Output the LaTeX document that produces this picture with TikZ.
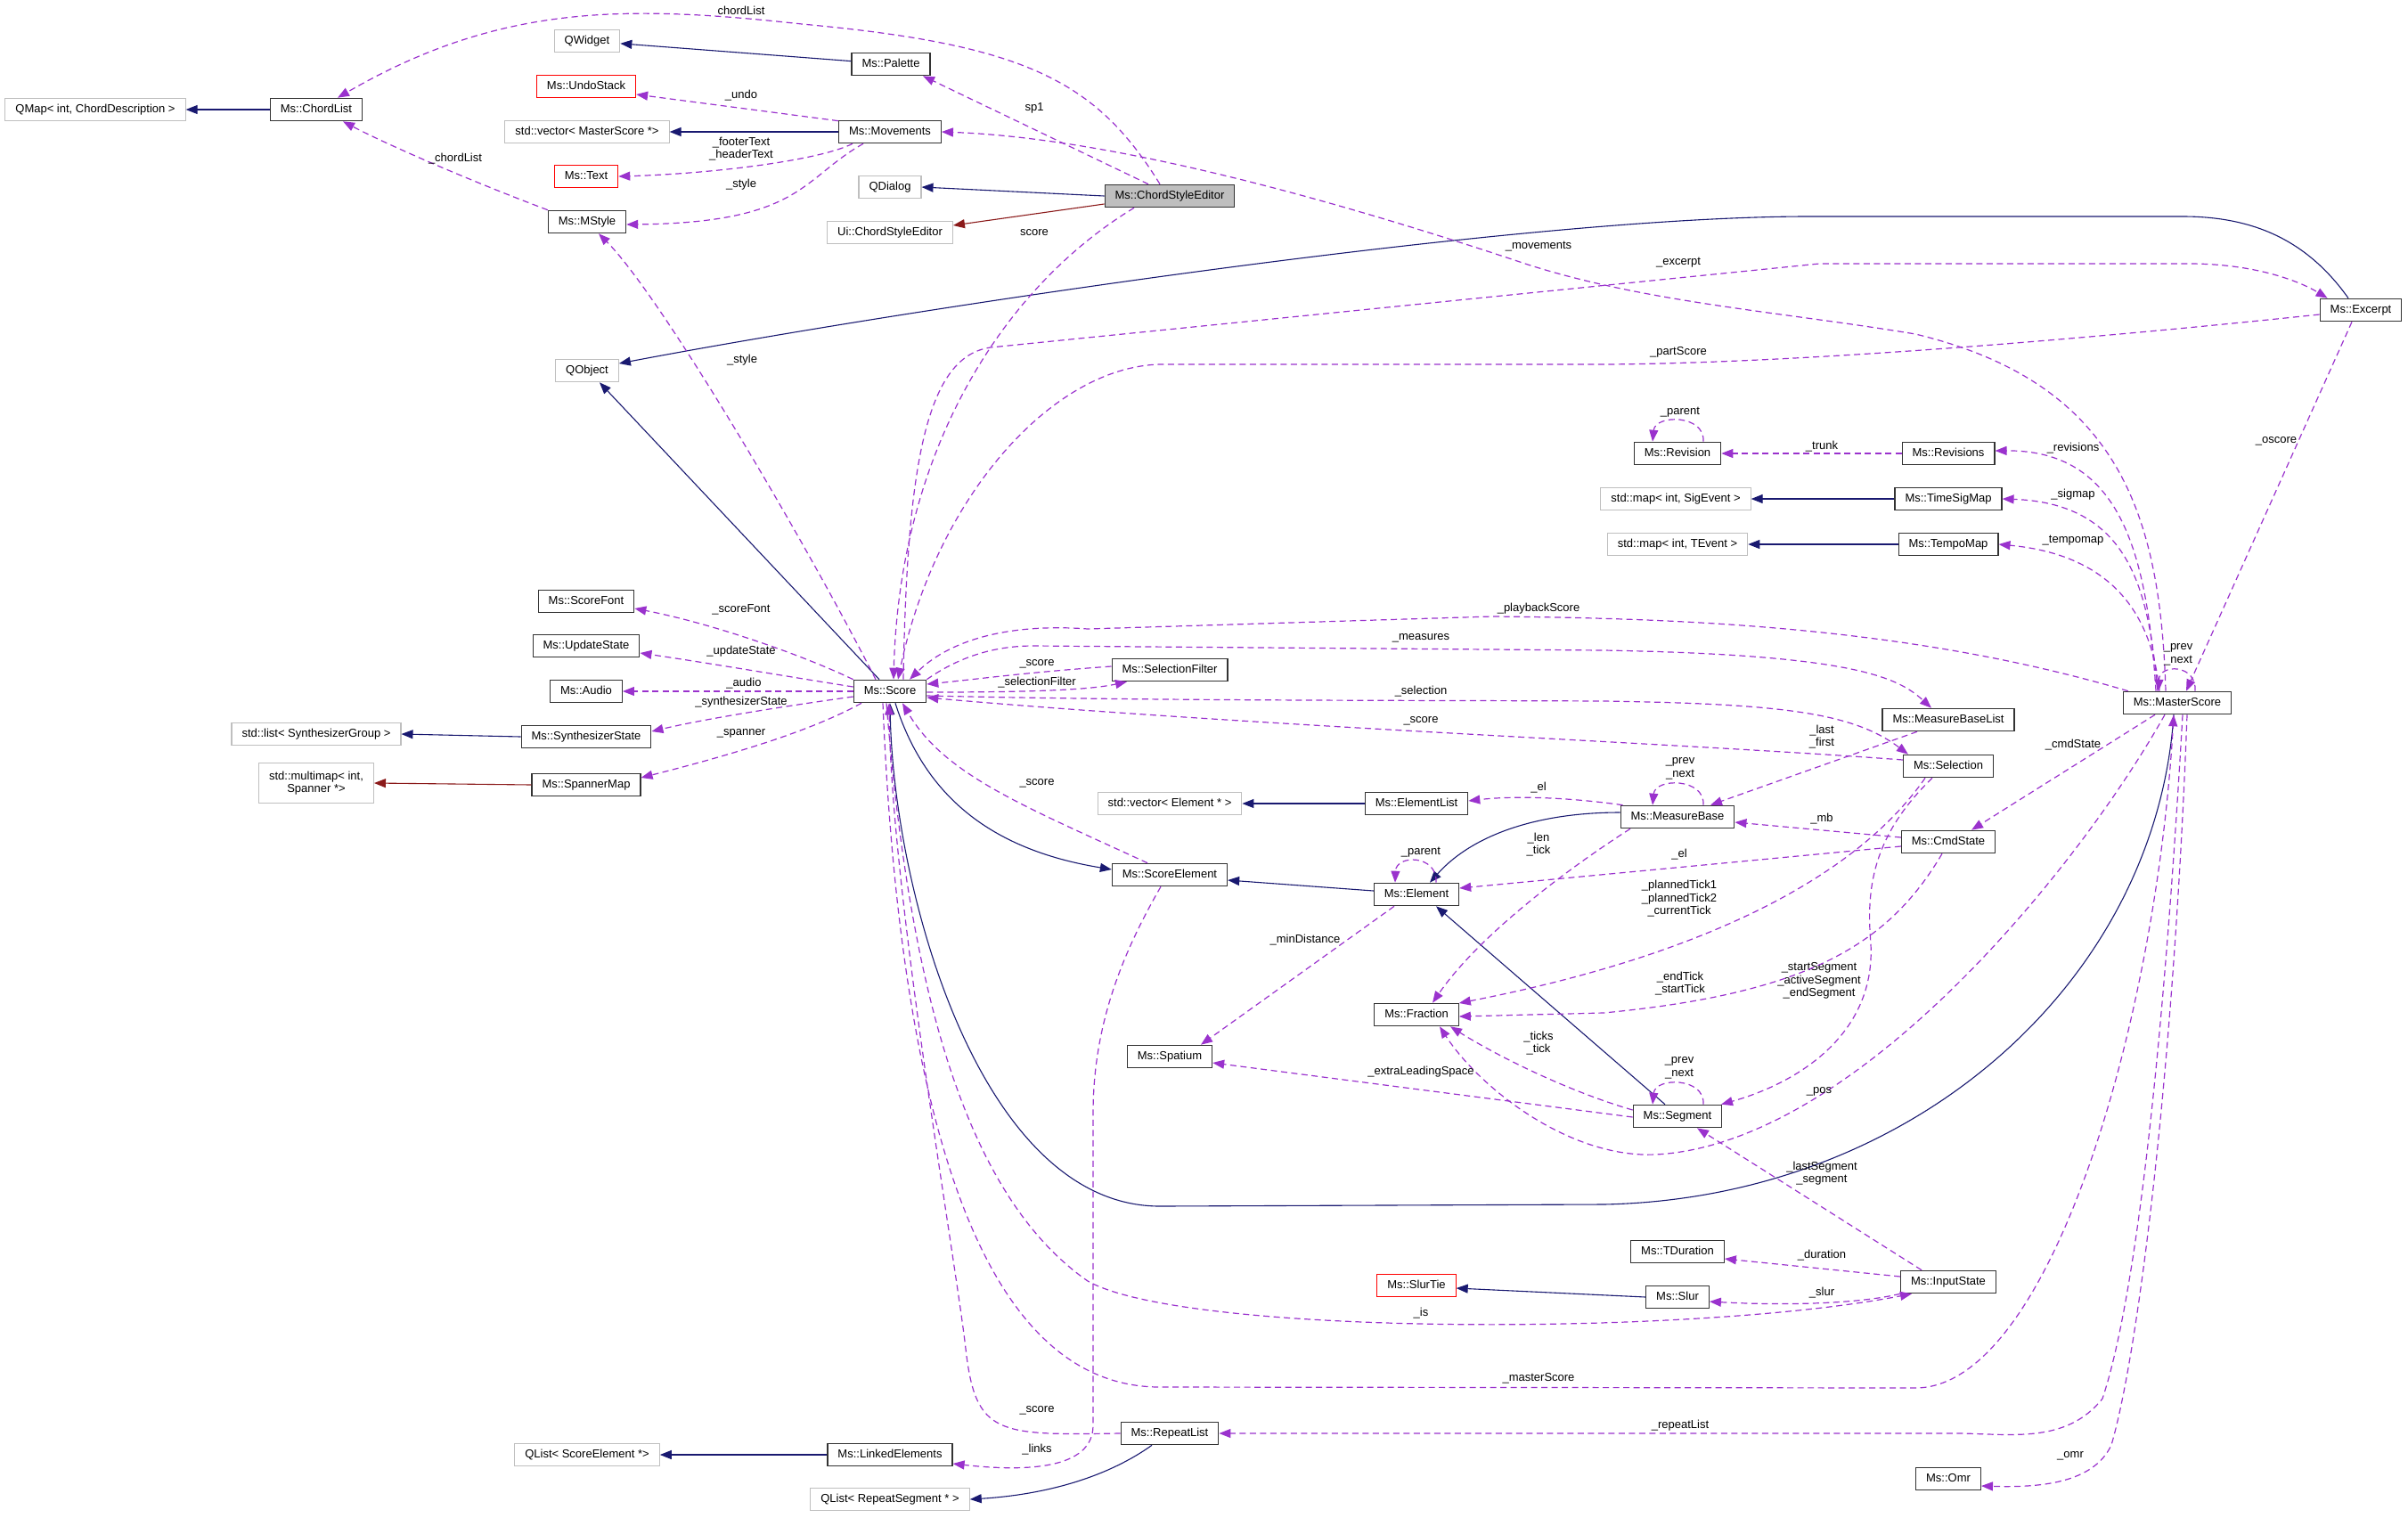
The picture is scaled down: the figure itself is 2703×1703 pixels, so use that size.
\documentclass[tikz,border=0pt]{standalone}
\usepackage{fontspec}
\setmainfont{Liberation Sans}
\usepackage{xcolor}
\usepackage{tikz}
\usetikzlibrary{arrows.meta}
\definecolor{navyblue}{HTML}{191970}
\definecolor{darkred}{HTML}{8B1A1A}
\definecolor{orchid}{HTML}{9A32CD}
\definecolor{extgray}{HTML}{BFBFBF}
\definecolor{focusgray}{HTML}{BFBFBF}
\newcommand{\dgfont}{\fontsize{13}{14.5}\selectfont}

\begin{document}
\begin{tikzpicture}[
    x=1pt, y=-1pt,
    box/.style={rectangle, draw=black!80, line width=1.1pt, font=\dgfont,
                inner xsep=11.5pt, inner ysep=0pt, minimum height=25.5pt,
                text height=9.6pt, text depth=2.7pt, fill=white},
    ext/.style={box, draw=extgray},
    bad/.style={box, draw=red},
    focus/.style={box, fill=focusgray},
    inh/.style={-{Triangle[length=13pt, width=10pt]}, navyblue, line width=1.1pt},
    priv/.style={inh, darkred},
    use/.style={-{Triangle[length=13pt, width=10pt]}, orchid, line width=1.2pt,
                dash pattern=on 7pt off 4.5pt},
    lbl/.style={font=\dgfont, inner sep=0pt, align=center, text=black},
]
    \useasboundingbox (0,0) rectangle (2703,1703);

    \node[ext]   (qmap)   at (107,123)   {QMap< int, ChordDescription >};
    \node[box]   (chl)    at (355,123)   {Ms::ChordList};
    \node[ext]   (qwid)   at (659,46)    {QWidget};
    \node[box]   (pal)    at (1000,72)   {Ms::Palette};
    \node[bad]   (undo)   at (658,97)    {Ms::UndoStack};
    \node[ext]   (vecms)  at (659,148)   {std::vector< MasterScore *>};
    \node[box]   (mov)    at (999,148)   {Ms::Movements};
    \node[bad]   (txt)    at (658,198)   {Ms::Text};
    \node[box]   (mst)    at (659,249)   {Ms::MStyle};
    \node[ext]   (qdlg)   at (999,210)   {QDialog};
    \node[focus] (cse)    at (1313,220)  {Ms::ChordStyleEditor};
    \node[ext]   (uicse)  at (999,261)   {Ui::ChordStyleEditor};
    \node[ext]   (qobj)   at (659,416)   {QObject};
    \node[box]   (exc)    at (2650,348)  {Ms::Excerpt};
    \node[box]   (rev)    at (1883,509)  {Ms::Revision};
    \node[box]   (revs)   at (2187,509)  {Ms::Revisions};
    \node[ext]   (mapsig) at (1881,560)  {std::map< int, SigEvent >};
    \node[box]   (tsig)   at (2187,560)  {Ms::TimeSigMap};
    \node[ext]   (mapte)  at (1883,611)  {std::map< int, TEvent >};
    \node[box]   (tempo)  at (2187,611)  {Ms::TempoMap};
    \node[box]   (sfont)  at (658,675)   {Ms::ScoreFont};
    \node[box]   (upd)    at (658,725)   {Ms::UpdateState};
    \node[box]   (aud)    at (658,776)   {Ms::Audio};
    \node[box]   (score)  at (999,776)   {Ms::Score};
    \node[box]   (sfil)   at (1313,752)  {Ms::SelectionFilter};
    \node[ext]   (lsyn)   at (355,824)   {std::list< SynthesizerGroup >};
    \node[box]   (syn)    at (658,827)   {Ms::SynthesizerState};
    \node[ext, align=center, text height={}, text depth={}, minimum height=45pt]
                 (mmap)   at (355,879)   {std::multimap< int,\\Spanner *>};
    \node[box]   (spm)    at (658,881)   {Ms::SpannerMap};
    \node[box]   (mscore) at (2444,789)  {Ms::MasterScore};
    \node[box]   (mbl)    at (2187,808)  {Ms::MeasureBaseList};
    \node[box]   (sel)    at (2187,860)  {Ms::Selection};
    \node[ext]   (vecel)  at (1313,902)  {std::vector< Element * >};
    \node[box]   (ell)    at (1590,902)  {Ms::ElementList};
    \node[box]   (mb)     at (1883,917)  {Ms::MeasureBase};
    \node[box]   (cmd)    at (2187,945)  {Ms::CmdState};
    \node[box]   (sce)    at (1313,982)  {Ms::ScoreElement};
    \node[box]   (el)     at (1590,1004) {Ms::Element};
    \node[box]   (frac)   at (1590,1139) {Ms::Fraction};
    \node[box]   (spat)   at (1313,1186) {Ms::Spatium};
    \node[box]   (seg)    at (1883,1253) {Ms::Segment};
    \node[box]   (tdur)   at (1883,1405) {Ms::TDuration};
    \node[bad]   (stie)   at (1590,1443) {Ms::SlurTie};
    \node[box]   (slur)   at (1883,1456) {Ms::Slur};
    \node[box]   (inp)    at (2187,1439) {Ms::InputState};
    \node[box]   (rpl)    at (1313,1609) {Ms::RepeatList};
    \node[ext]   (qlse)   at (659,1633)  {QList< ScoreElement *>};
    \node[box]   (lnk)    at (999,1633)  {Ms::LinkedElements};
    \node[ext]   (qlrs)   at (999,1683)  {QList< RepeatSegment * >};
    \node[box]   (omr)    at (2187,1660) {Ms::Omr};

    \draw[inh] (chl) -- (qmap);
    \draw[inh] (pal) -- (qwid);
    \draw[inh] (mov) -- (vecms);
    \draw[inh] (cse.west) -- (qdlg.east);
    \draw[priv] ([yshift=-9pt]cse.west) -- ([yshift=8pt]uicse.east);
    \draw[inh] ([xshift=-14pt]exc.north) .. controls (2590,270) and (2530,243) .. (2450,243)
        -- (2030,243) .. controls (1700,243) and (1000,350) .. ([yshift=8pt]qobj.east);
    \draw[inh] ([xshift=-12pt]score.north) -- ([xshift=14pt]qobj.south);
    \draw[inh] ([xshift=6pt]score.south) .. controls (1040,900) and (1120,955) .. ([yshift=6pt]sce.west);
    \draw[inh] ([xshift=-4pt]mscore.south) .. controls (2420,1100) and (2150,1345) .. (1800,1352)
        -- (1302,1354) .. controls (1100,1354) and (1003,1000) .. (score.south);
    \draw[inh] ([yshift=4pt]el.west) -- ([yshift=-6pt]sce.east);
    \draw[inh] ([yshift=5pt]mb.west) .. controls (1720,912) and (1650,940) .. ([xshift=15pt]el.north);
    \draw[inh] ([xshift=-14pt]seg.north) -- ([xshift=22pt]el.south);
    \draw[inh] (ell) -- (vecel);
    \draw[inh] (tsig) -- (mapsig);
    \draw[inh] (tempo) -- (mapte);
    \draw[inh] (syn.west) -- (lsyn.east);
    \draw[priv] (spm.west) -- (mmap.east);
    \draw[inh] (lnk) -- (qlse);
    \draw[inh] ([xshift=-20pt]rpl.south) .. controls (1240,1660) and (1170,1678) .. (qlrs.east);
    \draw[inh] (slur.west) -- ([yshift=-3pt]stie.east);

    \draw[use] ([xshift=-11pt]cse.north) .. controls (1230,90) and (1150,50) .. (900,27)
        .. controls (700,5) and (560,5) .. ([xshift=24pt]chl.north)
        node[lbl] (l-chl) at (832,12) {chordList};
    \draw[use] (mst.north west) .. controls (520,200) and (430,160) .. ([xshift=30pt]chl.south)
        node[lbl] (l-chl2) at (511,178) {\_chordList};
    \draw[use] ([yshift=-1pt]mov.north west) -- ([yshift=-9pt]undo.east)
        node[lbl] (l-undo) at (832,107) {\_undo};
    \draw[use] ([xshift=-42pt]mov.south) .. controls (920,180) and (800,195) .. (txt.east)
        node[lbl] (l-txt) at (832,167) {\_footerText\\\_headerText};
    \draw[use] ([xshift=-30pt]mov.south) .. controls (900,200) and (900,250) .. ([yshift=-3pt]mst.east)
        node[lbl] (l-sty1) at (832,207) {\_style};
    \draw[use] ([xshift=-16pt]score.north) .. controls (900,600) and (740,330) .. ([xshift=13pt]mst.south)
        node[lbl] (l-sty2) at (833,404) {\_style};
    \draw[use] ([xshift=-24pt]cse.north) -- ([xshift=36pt]pal.south)
        node[lbl] (l-sp1) at (1161,121) {sp1};
    \draw[use] ([xshift=-13pt]mscore.north) .. controls (2425,580) and (2380,430) .. (2150,375)
        .. controls (2000,350) and (1850,340) .. (1715,297)
        .. controls (1500,225) and (1250,155) .. (mov.east)
        node[lbl] (l-mov) at (1727,277) {\_movements};
    \draw[use] ([xshift=-40pt]cse.south) .. controls (1130,320) and (1010,500) .. ([xshift=4pt]score.north)
        node[lbl] (l-sc1) at (1161,261) {score};
    \draw[use] ([xshift=15pt]score.north) .. controls (1018,520) and (1040,400) .. (1112,390)
        -- (2042,296) -- (2457,296) .. controls (2530,296) and (2580,315) .. ([xshift=9pt]exc.north west)
        node[lbl] (l-exc) at (1884,295) {\_excerpt};
    \draw[use] ([yshift=-5pt]exc.west) .. controls (2300,385) and (2000,408) .. (1800,409)
        -- (1302,409) .. controls (1180,412) and (1050,560) .. ([xshift=9pt]score.north)
        node[lbl] (l-psc) at (1884,395) {\_partScore};
    \draw[use] ([xshift=6pt]mscore.north west) .. controls (2150,705) and (1900,694) .. (1675,692)
        -- (1221,706) .. controls (1140,700) and (1070,715) .. ([xshift=22pt]score.north)
        node[lbl] (l-pbs) at (1727,683) {\_playbackScore};
    \draw[use] (score.north east) .. controls (1080,735) and (1120,725) .. (1160,725)
        -- (1800,730) .. controls (2080,735) and (2130,760) .. ([xshift=-19pt]mbl.north)
        node[lbl] (l-meas) at (1595,716) {\_measures};
    \draw[use] ([yshift=4pt]sfil.west) .. controls (1150,755) and (1100,762) .. ([yshift=8pt]score.east)
        node[lbl] (l-sc2) at (1164,745) {\_score};
    \draw[use] ([yshift=-1pt]score.east) .. controls (1150,777) and (1220,775) .. ([xshift=-48pt]sfil.south)
        node[lbl] (l-sfil) at (1164,766) {\_selectionFilter};
    \draw[use] ([yshift=-5pt]score.east) .. controls (1300,787) and (1600,786) .. (1800,787)
        .. controls (2000,790) and (2080,800) .. ([xshift=6pt]sel.north west)
        node[lbl] (l-sel) at (1595,776) {\_selection};
    \draw[use] ([yshift=7pt]sel.west) .. controls (1900,835) and (1400,815) .. ([yshift=-7pt]score.east)
        node[lbl] (l-sc3) at (1595,809) {\_score};
    \draw[use] (revs.west) -- (rev.east)
        node[lbl] (l-trk) at (2045,501) {\_trunk};
    \draw[use] ([xshift=29pt]rev.north) .. controls (1914,465) and (1858,465) .. ([xshift=-28pt]rev.north)
        node[lbl] (l-rvp) at (1886,463) {\_parent};
    \draw[use] ([xshift=-35pt]mbl.south) -- ([xshift=37pt]mb.north)
        node[lbl] (l-lf) at (2045,827) {\_last\\\_first};
    \draw[use] ([xshift=29pt]mb.north) .. controls (1914,873) and (1858,873) .. ([xshift=-28pt]mb.north)
        node[lbl] (l-mbpn) at (1886,863) {\_prev\\\_next};
    \draw[use] ([yshift=5pt]cmd.west) -- ([yshift=-6pt]mb.east)
        node[lbl] (l-mb) at (2045,919) {\_mb};
    \draw[use] ([yshift=-5pt]cmd.west) -- ([yshift=7pt]el.east)
        node[lbl] (l-el1) at (1885,959) {\_el};
    \draw[use] ([xshift=3pt]mb.north west) .. controls (1760,895) and (1700,893) .. ([yshift=3pt]ell.east)
        node[lbl] (l-el2) at (1727,884) {\_el};
    \draw[use] ([xshift=-25pt]mscore.south) -- ([xshift=26pt]cmd.north)
        node[lbl] (l-cmd) at (2327,836) {\_cmdState};
    \draw[use] ([xshift=-24pt]mscore.north) .. controls (2410,620) and (2380,505) .. ([yshift=3pt]revs.east)
        node[lbl] (l-revs) at (2327,503) {\_revisions};
    \draw[use] ([xshift=-22pt]mscore.north) .. controls (2412,670) and (2395,565) .. (tsig.east)
        node[lbl] (l-sig) at (2327,555) {\_sigmap};
    \draw[use] ([xshift=-20pt]mscore.north) .. controls (2418,720) and (2395,625) .. (tempo.east)
        node[lbl] (l-tmp) at (2327,607) {\_tempomap};
    \draw[use] ([xshift=-10pt]exc.south) -- ([xshift=10pt]mscore.north)
        node[lbl] (l-osc) at (2555,495) {\_oscore};
    \draw[use] ([xshift=20pt]mscore.north) .. controls (2466,745) and (2424,745) .. ([xshift=-21pt]mscore.north)
        node[lbl] (l-mspn) at (2445,735) {\_prev\\\_next};
    \draw[use] ([xshift=-53pt]mb.south) .. controls (1760,975) and (1660,1050) .. ([xshift=18pt]frac.north)
        node[lbl] (l-lt) at (1727,948) {\_len\\\_tick};
    \draw[use] ([xshift=22pt]el.north) .. controls (1614,959) and (1567,959) .. ([xshift=-24pt]el.north)
        node[lbl] (l-elp) at (1595,957) {\_parent};
    \draw[use] ([xshift=-25pt]el.south) -- ([xshift=35pt]spat.north)
        node[lbl] (l-md) at (1465,1055) {\_minDistance};
    \draw[use] ([xshift=-26pt]sel.south) .. controls (2080,990) and (1900,1075) .. ([yshift=13pt]frac.east)
        node[lbl] (l-pt) at (1885,1009) {\_plannedTick1\\\_plannedTick2\\\_currentTick};
    \draw[use] ([xshift=-18pt]sel.south) .. controls (2100,940) and (2095,1000) .. (2100,1060)
        .. controls (2105,1160) and (2020,1215) .. ([xshift=49pt]seg.north)
        node[lbl] (l-ss) at (2042,1101) {\_startSegment\\\_activeSegment\\\_endSegment};
    \draw[use] ([xshift=-7pt]cmd.south) .. controls (2120,1060) and (2030,1115) .. (1800,1137)
        -- ([yshift=-2pt]frac.east)
        node[lbl] (l-et) at (1886,1104) {\_endTick\\\_startTick};
    \draw[use] ([xshift=-14pt]mscore.south) .. controls (2330,980) and (2080,1285) .. (1858,1296)
        .. controls (1760,1300) and (1660,1220) .. ([xshift=26pt]frac.south)
        node[lbl] (l-pos) at (2042,1225) {\_pos};
    \draw[use] ([yshift=7pt]seg.west) .. controls (1760,1225) and (1680,1185) .. ([xshift=38pt]frac.south)
        node[lbl] (l-tt) at (1727,1171) {\_ticks\\\_tick};
    \draw[use] ([yshift=-1pt]seg.west) -- ([yshift=-7pt]spat.east)
        node[lbl] (l-els) at (1595,1203) {\_extraLeadingSpace};
    \draw[use] ([xshift=29pt]seg.north) .. controls (1914,1209) and (1858,1209) .. ([xshift=-28pt]seg.north)
        node[lbl] (l-sgpn) at (1885,1199) {\_prev\\\_next};
    \draw[use] ([xshift=-30pt]inp.north) -- ([xshift=22pt]seg.south)
        node[lbl] (l-ls) at (2045,1317) {\_lastSegment\\\_segment};
    \draw[use] ([yshift=6pt]inp.west) -- ([yshift=-8pt]tdur.east)
        node[lbl] (l-dur) at (2045,1409) {\_duration};
    \draw[use] (inp.south west) .. controls (2080,1465) and (1990,1465) .. ([yshift=-5pt]slur.east)
        node[lbl] (l-slur) at (2045,1451) {\_slur};
    \draw[use] ([xshift=-4pt]score.south) .. controls (1020,1100) and (1080,1340) .. (1221,1438)
        .. controls (1330,1500) and (1900,1500) .. ([xshift=-41pt]inp.south)
        node[lbl] (l-is) at (1595,1474) {\_is};
    \draw[use] ([xshift=-8pt]score.south) .. controls (1010,1250) and (1100,1555) .. (1300,1557)
        -- (2150,1558) .. controls (2300,1558) and (2420,1150) .. ([xshift=-4pt]mscore.south)
        node[lbl] (l-msc) at (1727,1547) {\_masterScore};
    \draw[use] ([xshift=6pt]mscore.south) .. controls (2430,1150) and (2400,1450) .. (2360,1570)
        .. controls (2320,1620) and (2260,1610) .. (2200,1609) -- (rpl.east)
        node[lbl] (l-rpl) at (1886,1600) {\_repeatList};
    \draw[use] ([xshift=11pt]mscore.south) .. controls (2440,1200) and (2400,1520) .. (2370,1622)
        .. controls (2350,1665) and (2290,1670) .. ([yshift=-8pt]omr.east)
        node[lbl] (l-omr) at (2324,1634) {\_omr};
    \draw[use] ([xshift=-25pt]sce.north) .. controls (1150,905) and (1060,870) .. ([xshift=14pt]score.south)
        node[lbl] (l-sc4) at (1164,879) {\_score};
    \draw[use] (rpl.west) .. controls (1120,1611) and (1095,1612) .. (1084,1514)
        .. controls (1073,1416) and (1000,1000) .. ([xshift=-1pt]score.south)
        node[lbl] (l-sc5) at (1164,1583) {\_score};
    \draw[use] ([xshift=-10pt]sce.south) .. controls (1260,1070) and (1227,1150) .. (1227,1250)
        -- (1227,1600) .. controls (1227,1650) and (1150,1652) .. ([yshift=-10pt]lnk.east)
        node[lbl] (l-lnk) at (1164,1627) {\_links};

    \draw[use] (score.north west) .. controls (900,735) and (800,700) .. ([yshift=-8pt]sfont.east)
        node[lbl] (l-sf) at (832,684) {\_scoreFont};
    \draw[use] ([yshift=5pt]score.west) .. controls (900,762) and (800,745) .. ([yshift=-8pt]upd.east)
        node[lbl] (l-us) at (832,731) {\_updateState};
    \draw[use] (score.west) -- (aud.east)
        node[lbl] (l-aud) at (835,767) {\_audio};
    \draw[use] ([yshift=-6pt]score.west) .. controls (900,790) and (800,805) .. ([yshift=6pt]syn.east)
        node[lbl] (l-syn) at (832,788) {\_synthesizerState};
    \draw[use] ([xshift=-32pt]score.south) .. controls (920,815) and (850,840) .. ([yshift=8pt]spm.east)
        node[lbl] (l-sp) at (832,823) {\_spanner};
\end{tikzpicture}
\end{document}
